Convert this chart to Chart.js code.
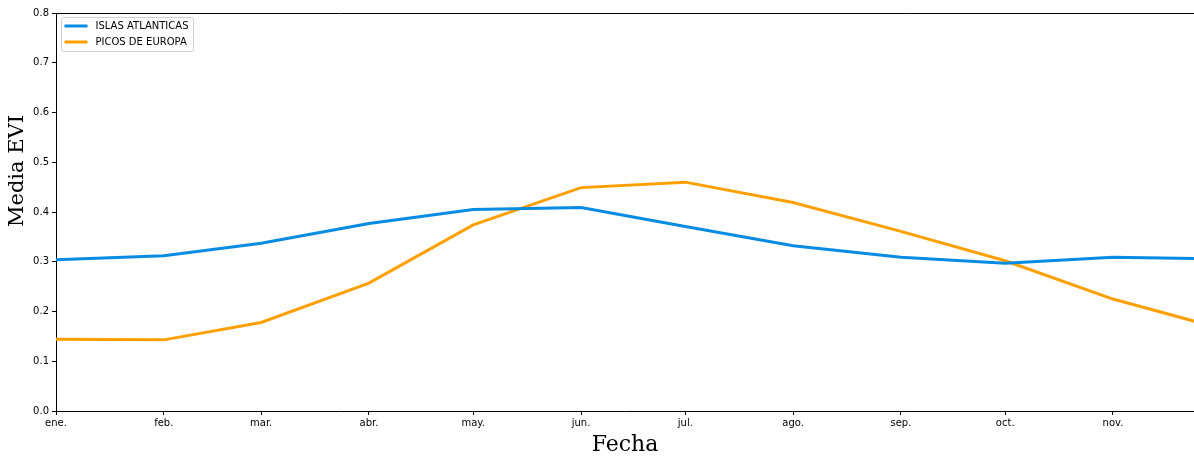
<!DOCTYPE html>
<html>
<head>
<meta charset="utf-8">
<script src="https://cdn.jsdelivr.net/npm/chart.js@4.4.1/dist/chart.umd.min.js"></script>
<style>
  html, body { margin: 0; padding: 0; background: #fff; }
  #wrap { width: 1194px; height: 458px; position: relative; }
</style>
</head>
<body>
<div id="wrap"><canvas id="evichart"></canvas></div>
<script>
// day of year for the 1st of each month
const monthDays = [0, 31, 59, 90, 120, 151, 181, 212, 243, 273, 304, 334];
const monthNames = ['ene.', 'feb.', 'mar.', 'abr.', 'may.', 'jun.', 'jul.', 'ago.', 'sep.', 'oct.', 'nov.', 'dic.'];

const islasAtlanticas = [0.304, 0.312, 0.337, 0.377, 0.405, 0.409, 0.371, 0.332, 0.309, 0.297, 0.309, 0.306];
const picosDeEuropa = [0.144, 0.143, 0.178, 0.257, 0.374, 0.449, 0.460, 0.419, 0.361, 0.302, 0.225, 0.168];

const yTicks = [0.0, 0.1, 0.2, 0.3, 0.4, 0.5, 0.6, 0.7, 0.8];
const yTitle = 'Media EVI';

const toPoints = (vals) => vals.map((v, i) => ({ x: monthDays[i], y: v }));

// legend box inside the plot (upper left), top spine and y title
const extras = {
  id: 'extras',
  afterDraw(chart) {
    const c = chart.ctx;
    const a = chart.chartArea;
    const x0 = a.left + 5.5, y0 = a.top + 4.5, w = 132, h = 34;
    c.save();
    c.fillStyle = 'rgba(255,255,255,0.85)';
    c.strokeStyle = '#d0d0d0';
    c.lineWidth = 1;
    c.beginPath();
    c.roundRect(x0, y0, w, h, 2);
    c.fill();
    c.stroke();
    c.font = '10px "DejaVu Sans"';
    c.textBaseline = 'middle';
    chart.data.datasets.forEach((ds, i) => {
      const y = y0 + 8.5 + i * 16;
      c.strokeStyle = ds.borderColor;
      c.lineWidth = 3;
      c.beginPath();
      c.moveTo(x0 + 3, y);
      c.lineTo(x0 + 26, y);
      c.stroke();
      c.fillStyle = '#000';
      c.fillText(ds.label, x0 + 34, y + 0.5);
    });
    // top spine
    c.strokeStyle = '#000';
    c.lineWidth = 1;
    c.beginPath();
    c.moveTo(a.left, a.top + 0.5);
    c.lineTo(a.right, a.top + 0.5);
    c.stroke();
    // y title
    c.translate(18, 171);
    c.rotate(-Math.PI / 2);
    c.font = '21px "DejaVu Serif"';
    c.textAlign = 'center';
    c.textBaseline = 'middle';
    c.fillStyle = '#000';
    c.fillText(yTitle, 0, 0);
    c.restore();
  }
};

const ctx = document.getElementById('evichart');

new Chart(ctx, {
  type: 'line',
  data: {
    datasets: [{
      label: 'ISLAS ATLANTICAS',
      data: toPoints(islasAtlanticas),
      borderColor: '#088be2',
      borderWidth: 3,
      pointRadius: 0,
      tension: 0
    }, {
      label: 'PICOS DE EUROPA',
      data: toPoints(picosDeEuropa),
      borderColor: '#ffa000',
      borderWidth: 3,
      pointRadius: 0,
      tension: 0
    }]
  },
  options: {
    responsive: true,
    maintainAspectRatio: false,
    animation: false,
    layout: { padding: { top: 13, right: 0, left: 0, bottom: 0 } },
    plugins: {
      legend: { display: false },
      tooltip: { enabled: false }
    },
    scales: {
      x: {
        type: 'linear',
        min: 0,
        max: 327.3,
        afterBuildTicks: (scale) => {
          scale.ticks = monthDays.filter(d => d <= scale.max).map(d => ({ value: d }));
        },
        afterFit: (scale) => { scale.height = 47; },
        ticks: {
          autoSkip: false,
          maxRotation: 0,
          color: '#000',
          padding: 2,
          font: { family: 'DejaVu Sans', size: 10 },
          callback: (v) => monthNames[monthDays.indexOf(v)]
        },
        grid: { drawOnChartArea: false, drawTicks: true, tickLength: 4, color: '#000' },
        border: { color: '#000', width: 1 },
        title: {
          display: true,
          text: 'Fecha',
          color: '#000',
          font: { family: 'DejaVu Serif', size: 22 },
          padding: { top: 2, bottom: 0 }
        }
      },
      y: {
        min: 0,
        max: 0.8,
        afterBuildTicks: (scale) => {
          scale.ticks = yTicks.map(v => ({ value: v }));
        },
        afterFit: (scale) => { scale.width = 56; },
        ticks: {
          color: '#000',
          padding: 3,
          font: { family: 'DejaVu Sans', size: 10 },
          callback: (v) => v.toFixed(1)
        },
        grid: { drawOnChartArea: false, drawTicks: true, tickLength: 4, color: '#000' },
        border: { color: '#000', width: 1 }
      }
    }
  },
  plugins: [extras]
});
</script>
</body>
</html>
